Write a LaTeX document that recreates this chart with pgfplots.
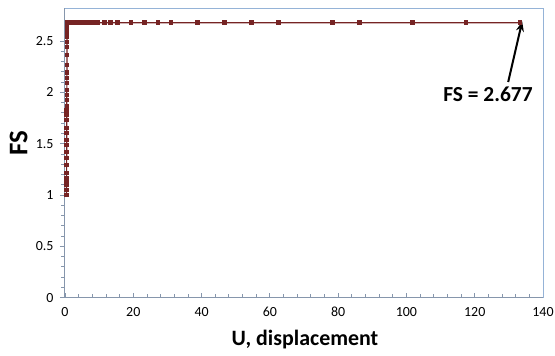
\documentclass[border=0pt]{standalone}
\usepackage{fontspec}
\setmainfont{Carlito}
\usepackage{pgfplots}
\pgfplotsset{compat=1.18}
\usetikzlibrary{arrows.meta}
\definecolor{ser}{RGB}{118,36,36}
\definecolor{axgray}{RGB}{134,150,172}
\definecolor{bord}{RGB}{149,179,215}
\pgfplotstableread{
x y
0.45 1.000
0.45 1.050
0.46 1.098
0.46 1.127
0.47 1.166
0.47 1.214
0.48 1.292
0.48 1.360
0.49 1.419
0.49 1.487
0.50 1.536
0.50 1.604
0.51 1.652
0.51 1.730
0.52 1.779
0.52 1.820
0.53 1.866
0.53 1.925
0.54 1.974
0.54 2.022
0.55 2.090
0.55 2.140
0.56 2.190
0.56 2.267
0.57 2.365
0.57 2.440
0.58 2.490
0.58 2.538
0.59 2.577
0.59 2.614
0.60 2.650
0.60 2.677
1.0 2.677
1.5 2.677
2.0 2.677
2.6 2.677
3.2 2.677
3.9 2.677
4.6 2.677
5.4 2.677
6.3 2.677
7.2 2.677
8.3 2.677
9.6 2.677
11.5 2.677
13.4 2.677
15.4 2.677
19.3 2.677
23.2 2.677
27.2 2.677
31.1 2.677
38.8 2.677
46.7 2.677
54.6 2.677
62.5 2.677
78.3 2.677
86.2 2.677
101.8 2.677
117.5 2.677
133.3 2.677
}\fsdata
\begin{document}
\begin{tikzpicture}
\useasboundingbox (-65bp,-58.3bp) rectangle (490bp,297.7bp);
\begin{axis}[
  at={(0,0)}, anchor=south west, scale only axis,
  width=478bp, height=289.4bp,
  xmin=0, xmax=140, ymin=0, ymax=2.818,
  axis x line*=bottom, axis y line*=left,
  axis line style={axgray, line width=1bp},
  xtick={0,20,40,60,80,100,120,140},
  xticklabels={0,20,40,60,80,100,120,140},
  minor x tick num=4,
  ytick={0,0.5,1,1.5,2,2.5},
  yticklabels={0,0.5,1,1.5,2,2.5},
  minor y tick num=4,
  xtick align=inside, ytick align=outside,
  major tick length=5bp, minor tick length=3.5bp,
  tick style={axgray, line width=0.8bp},
  /pgf/number format/assume math mode=true,
  xticklabel style={font=\fontsize{14}{16}\selectfont, yshift=-6bp},
  yticklabel style={font=\fontsize{14}{16}\selectfont, xshift=-3bp},
  xlabel={U, displacement}, ylabel={FS},
  xlabel style={at={(axis description cs:0.502,-0.143)}, anchor=center, font=\fontsize{22}{26}\selectfont\bfseries},
  ylabel style={at={(axis description cs:-0.097,0.535)}, anchor=center, font=\fontsize{27}{30}\selectfont\bfseries},
  clip=false,
]
\draw[bord, line width=1bp] (rel axis cs:0,1) -- (rel axis cs:1,1) -- (rel axis cs:1,0);
\addplot[ser, line width=1.2bp, mark=square*, mark size=1.7bp, mark options={fill=ser, draw=ser}] table {\fsdata};
\draw[-{Stealth[length=10bp,width=8bp]}, line width=2bp, black] (axis cs:129.8,2.10) -- (axis cs:133.9,2.69);
\node[font=\fontsize{21.5}{24}\selectfont\bfseries] at (axis cs:123.9,1.977) {FS = 2.677};
\end{axis}
\end{tikzpicture}
\end{document}
